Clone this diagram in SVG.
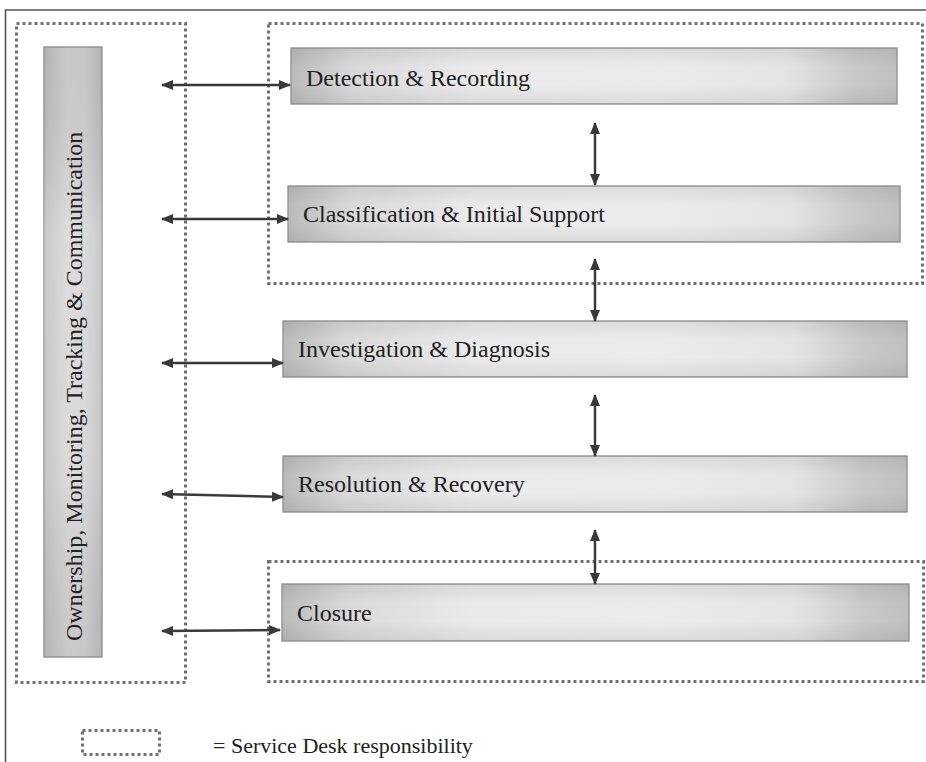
<svg xmlns="http://www.w3.org/2000/svg" width="926" height="762" viewBox="0 0 926 762">
<defs>
<linearGradient id="gh" x1="0" y1="0" x2="1" y2="0">
<stop offset="0" stop-color="#bababa"/>
<stop offset="0.1" stop-color="#d9d9d9"/>
<stop offset="0.3" stop-color="#eaeaea"/>
<stop offset="0.6" stop-color="#ececec"/>
<stop offset="0.82" stop-color="#e4e4e4"/>
<stop offset="0.93" stop-color="#c9c9c9"/>
<stop offset="1" stop-color="#c0c0c0"/>
</linearGradient>
<linearGradient id="gv" x1="0" y1="0" x2="0" y2="1">
<stop offset="0" stop-color="#000" stop-opacity="0.07"/>
<stop offset="0.35" stop-color="#000" stop-opacity="0"/>
<stop offset="0.65" stop-color="#000" stop-opacity="0"/>
<stop offset="1" stop-color="#000" stop-opacity="0.07"/>
</linearGradient>
<linearGradient id="gbar" x1="0" y1="0" x2="1" y2="0">
<stop offset="0" stop-color="#c0c0c0"/>
<stop offset="0.4" stop-color="#d6d6d6"/>
<stop offset="0.7" stop-color="#d4d4d4"/>
<stop offset="1" stop-color="#bfbfbf"/>
</linearGradient>
<linearGradient id="gbarv" x1="0" y1="0" x2="0" y2="1">
<stop offset="0" stop-color="#000" stop-opacity="0.06"/>
<stop offset="0.3" stop-color="#fff" stop-opacity="0.15"/>
<stop offset="0.7" stop-color="#fff" stop-opacity="0.1"/>
<stop offset="1" stop-color="#000" stop-opacity="0.06"/>
</linearGradient>
<marker id="ah" viewBox="0 0 12 10" refX="11" refY="5" markerWidth="12" markerHeight="10" markerUnits="userSpaceOnUse" orient="auto-start-reverse">
<path d="M0,0 L12,5 L0,10 Z" fill="#3a3a3a"/>
</marker>
<style>
.frame{fill:none;stroke:#555;stroke-width:1.6}
.dot{fill:none;stroke:#707070;stroke-width:3;stroke-dasharray:3 3}
.box{fill:url(#gh);stroke:#9a9a9a;stroke-width:1.5}
.shade{fill:url(#gv);stroke:none}
.lbl{font-family:"Liberation Serif","Times New Roman",serif;font-size:24px;fill:#222}
.conn line{stroke:#3a3a3a;stroke-width:2.5;marker-start:url(#ah);marker-end:url(#ah)}
</style>
</defs>
<rect width="926" height="762" fill="#fff"/>
<path class="frame" d="M5.5,762 L5.5,10 L926,10"/>

<g id="sd-left"><rect class="dot" x="16.5" y="23.5" width="169" height="659"/></g>
<g id="sd-top"><rect class="dot" x="268.5" y="23.5" width="654" height="260"/></g>
<g id="sd-bottom"><rect class="dot" x="268.5" y="561.5" width="655" height="120"/></g>

<g id="ownership">
<rect x="44" y="47" width="58" height="610" fill="url(#gbar)" stroke="#9a9a9a" stroke-width="1.5"/>
<rect x="44" y="47" width="58" height="610" fill="url(#gbarv)"/>
<text class="lbl" transform="translate(82,641) rotate(-90)">Ownership, Monitoring, Tracking &amp; Communication</text>
</g>

<g id="detection">
<rect class="box" x="291" y="48" width="606" height="56"/>
<rect class="shade" x="291" y="48" width="606" height="56"/>
<text class="lbl" x="306" y="86">Detection &amp; Recording</text>
</g>
<g id="classification">
<rect class="box" x="288" y="186" width="612" height="56"/>
<rect class="shade" x="288" y="186" width="612" height="56"/>
<text class="lbl" x="303" y="222">Classification &amp; Initial Support</text>
</g>
<g id="investigation">
<rect class="box" x="283" y="321" width="624" height="56"/>
<rect class="shade" x="283" y="321" width="624" height="56"/>
<text class="lbl" x="298" y="357">Investigation &amp; Diagnosis</text>
</g>
<g id="resolution">
<rect class="box" x="283" y="456" width="624" height="56"/>
<rect class="shade" x="283" y="456" width="624" height="56"/>
<text class="lbl" x="298" y="492">Resolution &amp; Recovery</text>
</g>
<g id="closure">
<rect class="box" x="282" y="584" width="627" height="57"/>
<rect class="shade" x="282" y="584" width="627" height="57"/>
<text class="lbl" x="297" y="621">Closure</text>
</g>

<g id="connectors" class="conn">
<line x1="162" y1="85" x2="290" y2="85"/>
<line x1="162" y1="219" x2="288" y2="219"/>
<line x1="162" y1="363" x2="283" y2="363"/>
<line x1="162" y1="494" x2="283" y2="497"/>
<line x1="162" y1="631" x2="280" y2="630"/>
<line x1="595" y1="123" x2="595" y2="185"/>
<line x1="595" y1="259" x2="595" y2="321"/>
<line x1="595" y1="395" x2="595" y2="456"/>
<line x1="595" y1="530" x2="595" y2="584"/>
</g>

<g id="legend">
<rect class="dot" x="82.5" y="730.5" width="77" height="24"/>
<text x="213" y="753" style="font-family:'Liberation Serif','Times New Roman',serif;font-size:22px;fill:#222">= Service Desk responsibility</text>
</g>
</svg>
